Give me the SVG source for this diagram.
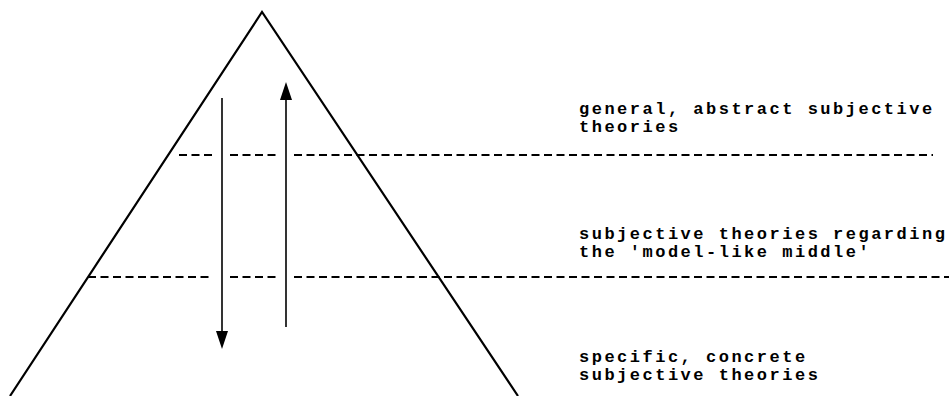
<svg xmlns="http://www.w3.org/2000/svg" width="949" height="396" viewBox="0 0 949 396">
<style>
.edge{fill:none;stroke:#000;stroke-width:2.2}
.dash{fill:none;stroke:#000;stroke-width:2;stroke-dasharray:8 4.5}
.shaft{fill:none;stroke:#000;stroke-width:1.6}
.head{fill:#000}
.lbl{font-family:"Liberation Mono","Courier New",monospace;font-size:17px;font-weight:bold;letter-spacing:2.5px;fill:#000}
</style>
<rect width="949" height="396" fill="#fff"/>
<g id="pyramid">
<polyline class="edge" points="10,396 262,12 518,396"/>
</g>
<g id="levels">
<path class="dash" d="M179,155H213M230,155H278M294,155H933"/>
<path class="dash" d="M88,277H213M230,277H278M294,277H949"/>
</g>
<g id="connectors">
<line class="shaft" x1="222" y1="98" x2="222" y2="332"/>
<polygon class="head" points="216,331 228,331 222,349"/>
<line class="shaft" x1="286" y1="327" x2="286" y2="98"/>
<polygon class="head" points="280,100 292,100 286,82"/>
</g>
<g id="label-general">
<text class="lbl" x="579" y="114">general, abstract subjective</text>
<text class="lbl" x="579" y="132">theories</text>
</g>
<g id="label-middle">
<text class="lbl" x="579" y="239">subjective theories regarding</text>
<text class="lbl" x="579" y="257">the 'model-like middle'</text>
</g>
<g id="label-specific">
<text class="lbl" x="579" y="362">specific, concrete</text>
<text class="lbl" x="579" y="380">subjective theories</text>
</g>
</svg>
